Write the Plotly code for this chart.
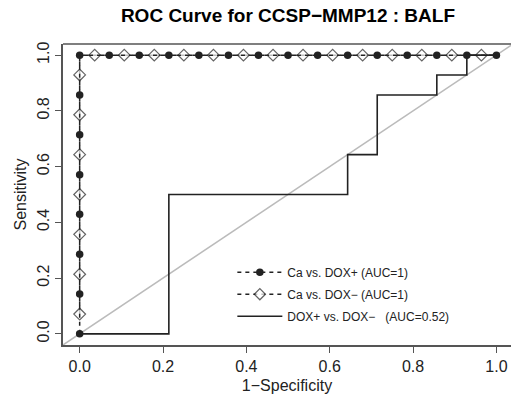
import plotly.graph_objects as go

# Ca vs. DOX+ (filled circles)
ca_doxp_fpr = [0, 0, 0, 0, 0, 0, 0, 0,
               0.071, 0.143, 0.214, 0.286, 0.357, 0.429, 0.5, 0.571, 0.643, 0.714, 0.786, 0.857, 0.929, 1.0]
ca_doxp_tpr = [0, 0.143, 0.286, 0.429, 0.571, 0.714, 0.857, 1.0,
               1, 1, 1, 1, 1, 1, 1, 1, 1, 1, 1, 1, 1, 1]

# Ca vs. DOX- (open diamonds; markers visible between the circles)
ca_doxm_fpr = [0, 0, 0, 0, 0, 0, 0, 0,
               0.036, 0.107, 0.179, 0.25, 0.321, 0.393, 0.464,
               0.536, 0.607, 0.679, 0.75, 0.821, 0.893, 0.964]
ca_doxm_tpr = [0.071, 0.214, 0.357, 0.5, 0.643, 0.786, 0.929, 1.0,
               1, 1, 1, 1, 1, 1, 1,
               1, 1, 1, 1, 1, 1, 1]

# DOX+ vs. DOX- (step curve)
dox_fpr = [0, 0.214, 0.214, 0.643, 0.643, 0.714, 0.714, 0.857, 0.857, 0.929, 0.929, 1.0]
dox_tpr = [0, 0, 0.5, 0.5, 0.643, 0.643, 0.857, 0.857, 0.929, 0.929, 1.0, 1.0]

tick_vals = [0, 0.2, 0.4, 0.6, 0.8, 1.0]
tick_text = ["0.0", "0.2", "0.4", "0.6", "0.8", "1.0"]

names = ["Ca vs. DOX+ (AUC=1)", "Ca vs. DOX\u2212 (AUC=1)", "DOX+ vs. DOX\u2212\u00a0\u00a0 (AUC=0.52)"]

x_range = [-0.04, 1.035]
y_range = [-0.04, 1.04]

FONT = "Liberation Sans, Arial, sans-serif"
INK = "#222222"
AX = "#555555"

# hide the diamond at the corner vertex (covered by the circle curve there)
diamond_sizes = [0 if (fx == 0 and ty == 1) else 9 for fx, ty in zip(ca_doxm_fpr, ca_doxm_tpr)]

fig = go.Figure()

fig.add_trace(go.Scatter(
    x=ca_doxm_fpr, y=ca_doxm_tpr, mode="lines+markers", name=names[1], legendrank=2, legendgroup="b",
    line=dict(color=INK, width=1.5, dash="4px,4px"),
    marker=dict(symbol="diamond", size=diamond_sizes, color="white", line=dict(color=INK, width=1.2)),
))
fig.add_trace(go.Scatter(
    x=ca_doxp_fpr, y=ca_doxp_tpr, mode="lines+markers", name=names[0], legendrank=1, legendgroup="a",
    line=dict(color=INK, width=1.5, dash="4px,4px"),
    marker=dict(symbol="circle", size=7.5, color=INK),
))
fig.add_trace(go.Scatter(
    x=dox_fpr, y=dox_tpr, mode="lines", name=names[2], legendrank=3, legendgroup="c",
    line=dict(color=INK, width=1.6),
))

# diagonal reference line across the plot region
d0 = max(x_range[0], y_range[0])
d1 = min(x_range[1], y_range[1])
fig.add_shape(type="line", xref="x", yref="y", x0=d0, y0=d0, x1=d1, y1=d1,
              line=dict(color="#bbbbbb", width=1.5), layer="below")
# top border of the box
fig.add_shape(type="line", xref="paper", yref="paper", x0=0, y0=1, x1=1, y1=1,
              line=dict(color=AX, width=1.5))

axis_common = dict(
    showgrid=False, zeroline=False, showline=True, linecolor=AX, linewidth=1.5,
    ticks="outside", ticklen=6, tickcolor=AX, tickwidth=1.2,
    tickvals=tick_vals, ticktext=tick_text,
    tickfont=dict(family=FONT, size=16, color=INK),
)

fig.update_layout(
    width=511, height=397,
    margin=dict(l=63, r=0, t=44, b=52),
    paper_bgcolor="white", plot_bgcolor="white",
    title=dict(text="<b>ROC Curve for CCSP\u2212MMP12 : BALF</b>", x=0.5635, xanchor="center",
               y=0.962, yanchor="middle", font=dict(family=FONT, size=19, color="black")),
    xaxis=dict(range=x_range, title=dict(text="1\u2212Specificity", standoff=6,
               font=dict(family=FONT, size=16, color=INK)), **axis_common),
    yaxis=dict(range=y_range, tickangle=-90, title=dict(text="Sensitivity", standoff=4,
               font=dict(family=FONT, size=16, color=INK)), **axis_common),
    legend=dict(x=0.378, y=0.29, xanchor="left", yanchor="top", bgcolor="rgba(0,0,0,0)",
                font=dict(family=FONT, size=12, color=INK), itemwidth=45, tracegroupgap=3),
    showlegend=True,
)

fig.write_html("out.html", config={"displayModeBar": False},
               post_script="document.body.style.margin='0';document.body.style.overflow='hidden';")
